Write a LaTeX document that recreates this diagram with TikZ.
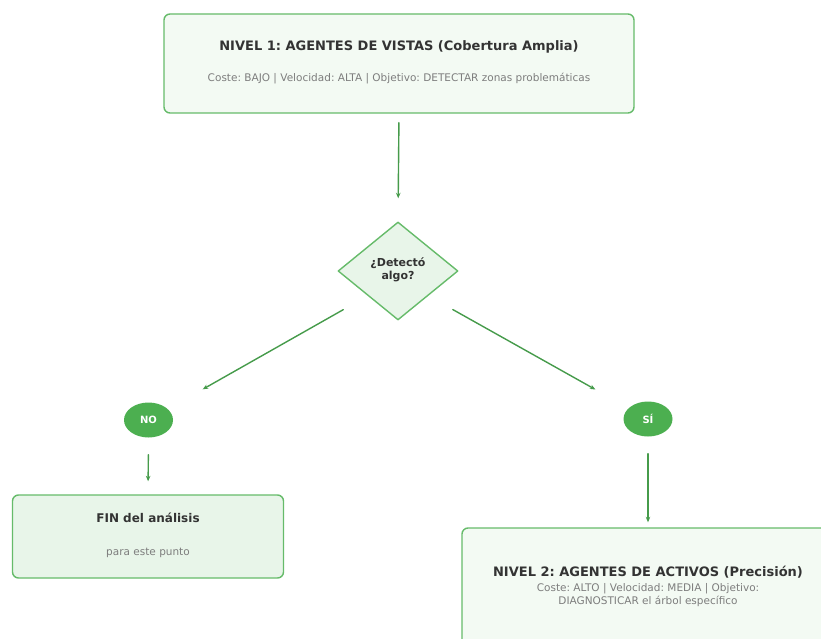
\documentclass[tikz,border=0pt]{standalone}
\usepackage{fontspec}
\setmainfont{DejaVu Sans}
\frenchspacing
\usetikzlibrary{shapes.geometric,arrows.meta}
\definecolor{borde}{RGB}{102,187,106}
\definecolor{flecha}{RGB}{70,155,75}
\definecolor{verde}{RGB}{76,175,80}
\definecolor{fondoA}{RGB}{243,250,243}
\definecolor{fondoB}{RGB}{232,245,233}
\definecolor{titulo}{RGB}{51,51,51}
\definecolor{gris}{RGB}{125,125,125}
\begin{document}
\begin{tikzpicture}[x=1pt,y=-1pt,line join=round,line cap=round,
	caja/.style={draw=borde,line width=1.4pt,rounded corners=6pt,inner sep=0pt},
	rombo/.style={diamond,draw=borde,line width=1.4pt,fill=fondoB,inner sep=0pt,minimum width=120pt,minimum height=98pt},
	elipse/.style={ellipse,fill=verde,inner sep=0pt,minimum width=49pt,minimum height=35pt,text=white,font=\fontsize{10}{12}\selectfont\bfseries},
	tit/.style={text=titulo,font=\fontsize{13}{15}\selectfont\bfseries},
	sub/.style={text=gris,font=\fontsize{10.5}{13.5}\selectfont,align=center},
	flechita/.style={-{Stealth[length=5.5pt,width=4.5pt]},draw=flecha,line width=1.4pt}]
	\useasboundingbox (0,0) rectangle (821,639);
	\clip (0,0) rectangle (821,639);
	%Nivel 1
	\node[caja,fill=fondoA,minimum width=470pt,minimum height=99pt] (nivel1) at (399,63.5) {};
	\node[tit] (t1) at (399,47) {NIVEL 1: AGENTES DE VISTAS (Cobertura Amplia)};
	\node[sub] (s1) at (399,79) {Coste: BAJO | Velocidad: ALTA | Objetivo: DETECTAR zonas problemáticas};
	%Decision
	\node[rombo] (dec) at (398,271) {};
	\node[text=titulo,font=\fontsize{11}{13}\selectfont\bfseries,align=center] (tdec) at (398,270) {¿Detectó\\algo?};
	%Ramas
	\node[elipse] (no) at (148.5,420) {NO};
	\node[elipse] (si) at (648,419) {SÍ};
	%Fin
	\node[caja,fill=fondoB,minimum width=271pt,minimum height=83pt] (fin) at (148,536.5) {};
	\node[tit,font=\fontsize{12}{14}\selectfont\bfseries] (t2) at (148,518) {FIN del análisis};
	\node[sub] (s2) at (148,553) {para este punto};
	%Nivel 2
	\node[caja,fill=fondoA,minimum width=372pt,minimum height=124pt] (nivel2) at (648,590) {};
	\node[tit] (t3) at (648,572) {NIVEL 2: AGENTES DE ACTIVOS (Precisión)};
	\node[sub] (s3) at (648,595) {Coste: ALTO | Velocidad: MEDIA | Objetivo:\\DIAGNOSTICAR el árbol específico};
	%Flechas
	\draw[flechita,shorten <=9pt,shorten >=23pt] (nivel1.south) -- (dec.north);
	\draw[flechita,shorten <=28pt,shorten >=40pt] (dec.south west) -- (no);
	\draw[flechita,shorten <=28pt,shorten >=38pt] (dec.south east) -- (si);
	\draw[flechita,shorten <=17pt,shorten >=13pt] (no.south) -- (fin.north);
	\draw[flechita,shorten <=17pt,shorten >=5pt] (si.south) -- (nivel2.north);
\end{tikzpicture}
\end{document}
